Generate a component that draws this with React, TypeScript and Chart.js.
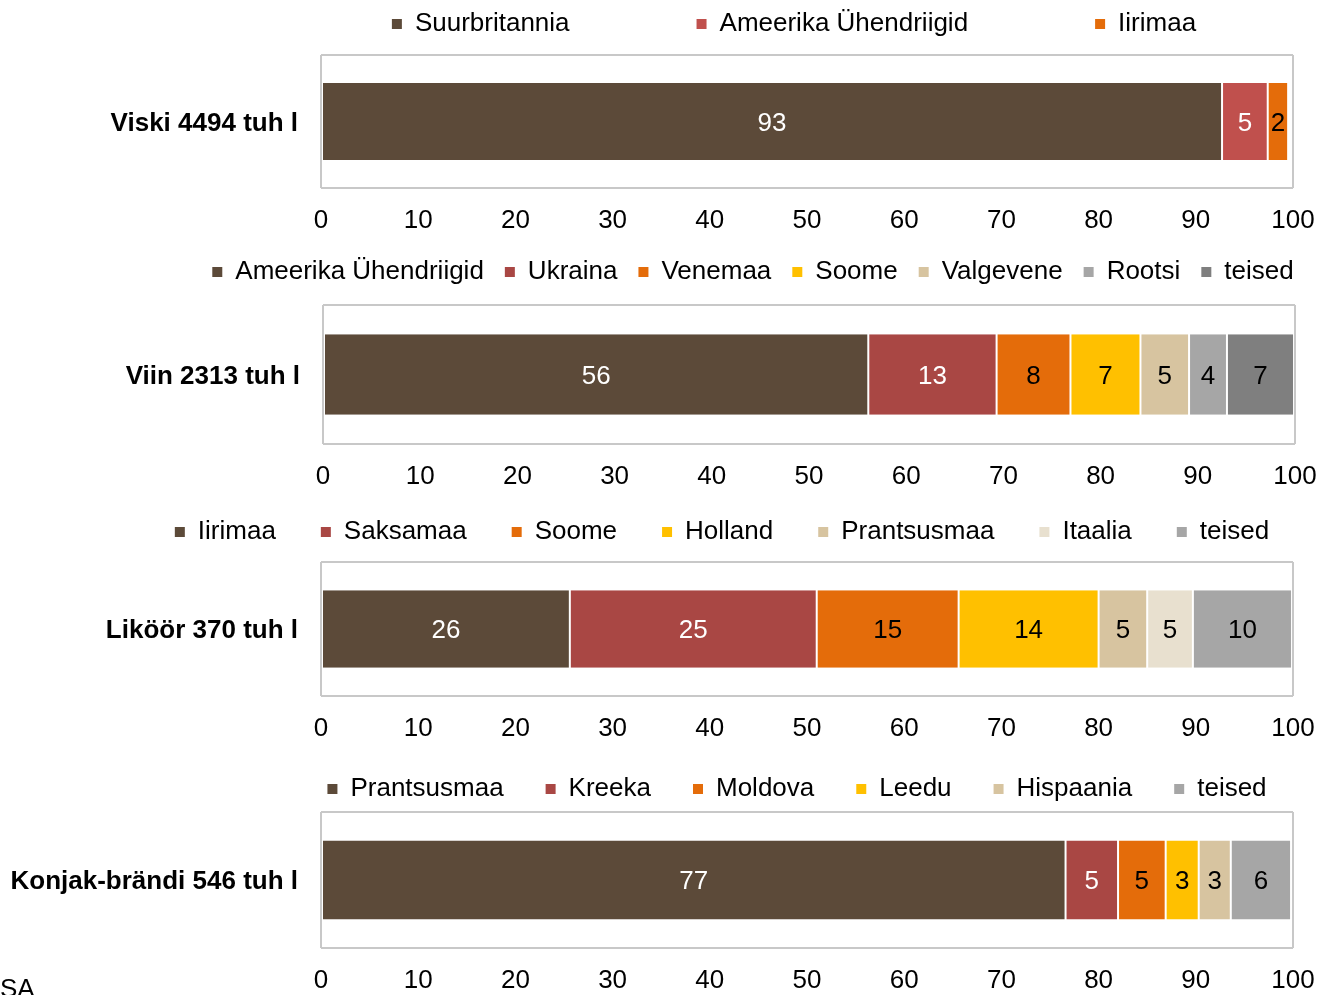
import React, { useEffect, useRef } from 'react';
import { Chart, registerables } from 'chart.js';

Chart.register(...registerables);

// ---------- data ----------
const viskiCategory = ['Viski 4494 tuh l'];
const viskiCountries = ['Suurbritannia', 'Ameerika Ühendriigid', 'Iirimaa'];
const viskiShares = [92.7, 4.7, 2.1];

const viinCategory = ['Viin 2313 tuh l'];
const viinCountries = ['Ameerika Ühendriigid', 'Ukraina', 'Venemaa', 'Soome', 'Valgevene', 'Rootsi', 'teised'];
const viinShares = [56.1, 13.2, 7.6, 7.2, 5.0, 3.9, 6.9];

const likoorCategory = ['Liköör 370 tuh l'];
const likoorCountries = ['Iirimaa', 'Saksamaa', 'Soome', 'Holland', 'Prantsusmaa', 'Itaalia', 'teised'];
const likoorShares = [25.6, 25.4, 14.6, 14.4, 5.0, 4.7, 10.2];

const konjakCategory = ['Konjak-brändi 546 tuh l'];
const konjakCountries = ['Prantsusmaa', 'Kreeka', 'Moldova', 'Leedu', 'Hispaania', 'teised'];
const konjakShares = [76.6, 5.4, 4.9, 3.4, 3.3, 6.2];

const xMin = 0;
const xMax = 100;
const xStep = 10;

const sourceNote = 'SA';

// ---------- styles ----------
const FONT = '"Liberation Sans", Arial, Helvetica, sans-serif';
const BROWN = '#5C4A39';
const RED = '#A94744';
const RED_LIGHT = '#C0504D';
const ORANGE = '#E46C0A';
const YELLOW = '#FFC000';
const TAN = '#D7C4A0';
const CREAM = '#E8E0CF';
const GRAY = '#A6A6A6';
const DARKGRAY = '#7F7F7F';
const BORDER = '#C8C8C8';

const viskiColors = [BROWN, RED_LIGHT, ORANGE];
const viinColors = [BROWN, RED, ORANGE, YELLOW, TAN, GRAY, DARKGRAY];
const likoorColors = [BROWN, RED, ORANGE, YELLOW, TAN, CREAM, GRAY];
const konjakColors = [BROWN, RED, ORANGE, YELLOW, TAN, GRAY];

const CW = 1600;

type Layout = {
  top: number;
  height: number;
  legendRight: number;
  yWidth: number;
  y2Width: number;
  legendPad: number;
  topGap: number;
};

const panels: {
  category: string[];
  countries: string[];
  shares: number[];
  colors: string[];
  layout: Layout;
}[] = [
  {
    category: viskiCategory, countries: viskiCountries, shares: viskiShares, colors: viskiColors,
    layout: { top: -116, height: 354, legendRight: 1588, yWidth: 321, y2Width: 295, legendPad: 127, topGap: 8 },
  },
  {
    category: viinCategory, countries: viinCountries, shares: viinShares, colors: viinColors,
    layout: { top: 238, height: 256, legendRight: 1506, yWidth: 323, y2Width: 211, legendPad: 21, topGap: 10 },
  },
  {
    category: likoorCategory, countries: likoorCountries, shares: likoorShares, colors: likoorColors,
    layout: { top: 474, height: 272, legendRight: 1444, yWidth: 321, y2Width: 151, legendPad: 45, topGap: 7 },
  },
  {
    category: konjakCategory, countries: konjakCountries, shares: konjakShares, colors: konjakColors,
    layout: { top: 734, height: 264, legendRight: 1594, yWidth: 321, y2Width: 301, legendPad: 42, topGap: 0 },
  },
];

const valueLabels = {
  id: 'valueLabels',
  afterDatasetsDraw(chart: any) {
    const { ctx } = chart;
    chart.data.datasets.forEach((ds: any, i: number) => {
      const meta = chart.getDatasetMeta(i);
      if (meta.hidden) return;
      meta.data.forEach((el: any, j: number) => {
        const v = ds.data[j];
        const p = el.getProps(['x', 'y', 'base'], true);
        const cx = (p.x + p.base) / 2;
        ctx.save();
        ctx.font = `26px ${FONT}`;
        ctx.fillStyle = i < 2 ? '#FFFFFF' : '#000000';
        ctx.textAlign = 'center';
        ctx.textBaseline = 'middle';
        ctx.fillText(String(Math.round(v)), cx, p.y + 2);
        ctx.restore();
      });
    });
  },
};

function BarPanel({ panel }: { panel: (typeof panels)[number] }) {
  const ref = useRef<HTMLCanvasElement>(null);
  const L = panel.layout;

  useEffect(() => {
    const canvas = ref.current;
    if (!canvas) return;
    const datasets = panel.countries.map((name, i) => ({
      label: name,
      data: [panel.shares[i]],
      backgroundColor: panel.colors[i],
      borderColor: '#FFFFFF',
      borderWidth: { left: 1, right: 1, top: 0, bottom: 0 },
      borderSkipped: false,
      categoryPercentage: 1,
      barPercentage: 0.58,
    }));

    const chart = new Chart(canvas, {
      type: 'bar',
      data: { labels: panel.category, datasets },
      plugins: [valueLabels],
      options: {
        indexAxis: 'y',
        responsive: false,
        animation: false,
        layout: {
          padding: { left: 0, right: CW - L.legendRight, top: 0, bottom: 0 },
        },
        plugins: {
          tooltip: { enabled: false },
          legend: {
            position: 'top',
            align: 'center',
            labels: {
              boxWidth: 10,
              boxHeight: 10,
              padding: L.legendPad,
              color: '#000000',
              font: { size: 26, family: FONT },
              generateLabels: (c: any) =>
                (Chart.defaults.plugins.legend.labels as any)
                  .generateLabels(c)
                  .map((l: any) => ({ ...l, lineWidth: 0, strokeStyle: 'rgba(0,0,0,0)' })),
            },
          },
        },
        scales: {
          x: {
            type: 'linear',
            position: 'bottom',
            stacked: true,
            min: xMin,
            max: xMax,
            ticks: {
              stepSize: xStep,
              padding: 17,
              color: '#000000',
              font: { size: 26, family: FONT },
              maxRotation: 0,
              autoSkip: false,
            },
            grid: {
              drawTicks: false,
              lineWidth: 2,
              color: (ctx: any) =>
                ctx.tick && (ctx.tick.value === xMin || ctx.tick.value === xMax) ? BORDER : 'rgba(0,0,0,0)',
            },
            border: { display: false },
            afterFit: (s: any) => {
              s.height = 50;
            },
          },
          y: {
            type: 'category',
            position: 'left',
            stacked: true,
            ticks: {
              padding: 23,
              labelOffset: 2,
              color: '#000000',
              font: { size: 26, weight: 'bold', family: FONT },
            },
            grid: { drawTicks: false, offset: true, color: BORDER, lineWidth: 2 },
            border: { display: false },
            afterFit: (s: any) => {
              s.width = L.yWidth;
            },
          },
          x2: {
            type: 'linear',
            position: 'top',
            display: true,
            ticks: { display: false },
            grid: { display: false },
            border: { display: false },
            afterFit: (s: any) => {
              s.height = L.topGap;
            },
          },
          y2: {
            type: 'linear',
            position: 'right',
            display: true,
            ticks: { display: false },
            grid: { display: false },
            border: { display: false },
            afterFit: (s: any) => {
              s.width = L.y2Width;
            },
          },
        },
      } as any,
    });
    return () => chart.destroy();
  }, []);

  return (
    <div style={{ position: 'absolute', left: 0, top: L.top, width: CW, height: L.height }}>
      <canvas
        ref={ref}
        width={CW}
        height={L.height}
        style={{ display: 'block', width: CW, height: L.height }}
      />
    </div>
  );
}

export default function App() {
  return (
    <div
      style={{
        position: 'absolute',
        left: 0,
        top: 0,
        width: 1334,
        height: 995,
        overflow: 'hidden',
        background: '#FFFFFF',
      }}
    >
      {panels.map((p, i) => (
        <BarPanel key={i} panel={p} />
      ))}
      <div
        style={{
          position: 'absolute',
          left: 0,
          top: 973,
          fontFamily: FONT,
          fontSize: 26,
          lineHeight: '30px',
          color: '#000',
          whiteSpace: 'nowrap',
        }}
      >
        {sourceNote}
      </div>
    </div>
  );
}
